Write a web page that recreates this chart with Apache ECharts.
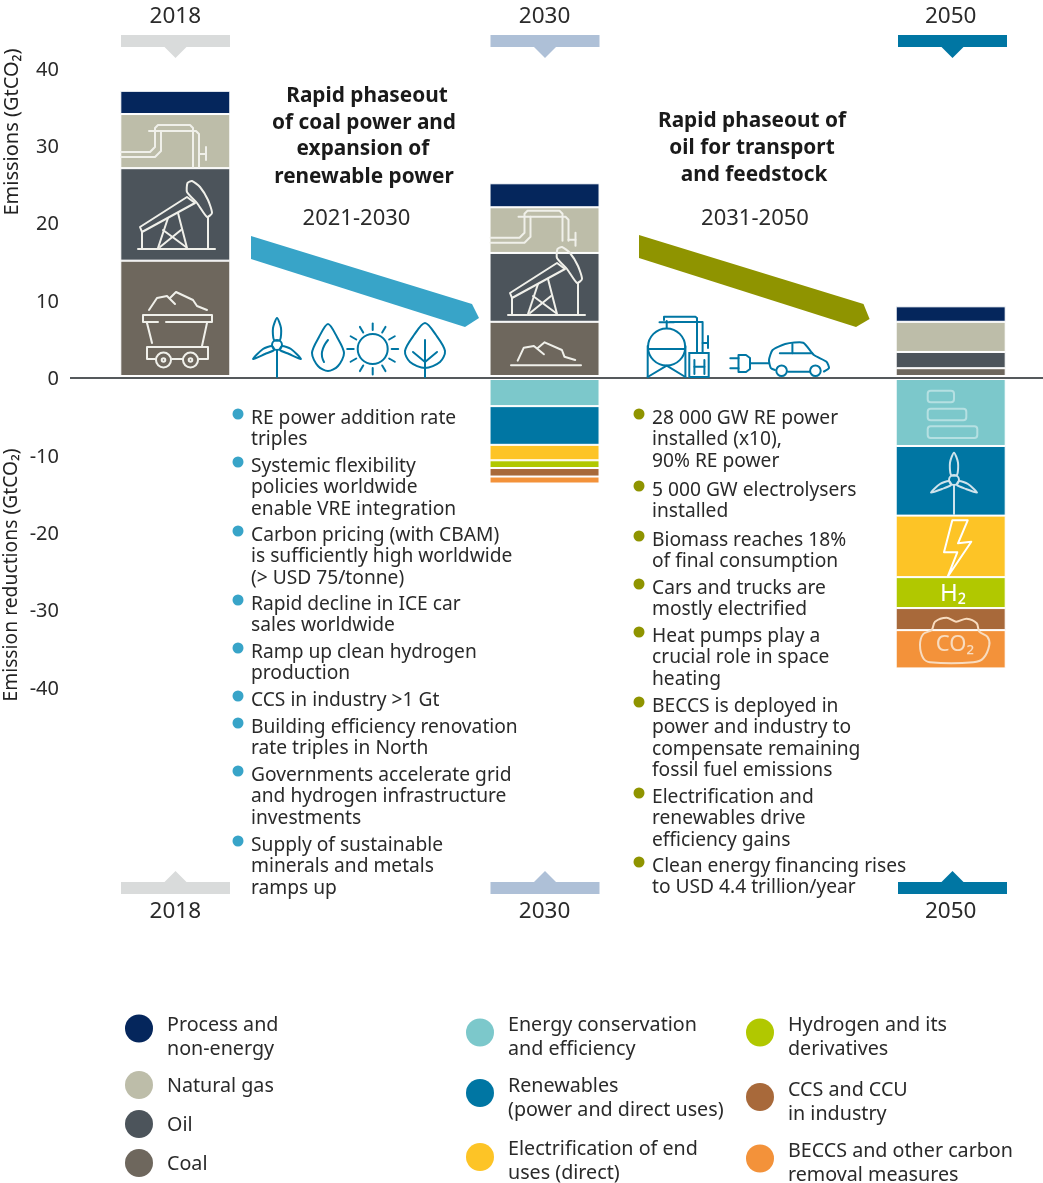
<!DOCTYPE html>
<html><head><meta charset="utf-8">
<style>html,body{margin:0;padding:0;background:#fff}#c{width:1043px;height:1183px}</style>
<script src="https://cdn.jsdelivr.net/npm/echarts@6/dist/echarts.min.js"></script>
</head><body><div id="c"></div>
<script>
// ---- data ----
const years = ['2018','2030','2050'];
const coal = [15.1, 7.2, 1.2];
const oil = [11.95, 8.9, 2.1];
const gas = [7.0, 5.9, 3.9];
const processEm = [3.0, 3.1, 2.0];
const efficiency = [null, -3.7, -8.85];
const renewables = [null, -5.0, -9.0];
const electrification = [null, -2.0, -7.95];
const hydrogen = [null, -1.0, -4.0];
const ccs = [null, -1.1, -2.85];
const beccs = [null, -0.9, -4.95];
const yTicks = {min:-40, max:40, step:10};
const leftBullets = [
 ['RE power addition rate','triples'],
 ['Systemic flexibility','policies worldwide','enable VRE integration'],
 ['Carbon pricing (with CBAM)','is sufficiently high worldwide','(> USD 75/tonne)'],
 ['Rapid decline in ICE car','sales worldwide'],
 ['Ramp up clean hydrogen','production'],
 ['CCS in industry >1 Gt'],
 ['Building efficiency renovation','rate triples in North'],
 ['Governments accelerate grid','and hydrogen infrastructure','investments'],
 ['Supply of sustainable','minerals and metals','ramps up']];
const rightBullets = [
 ['28 000 GW RE power','installed (x10),','90% RE power'],
 ['5 000 GW electrolysers','installed'],
 ['Biomass reaches 18%','of final consumption'],
 ['Cars and trucks are','mostly electrified'],
 ['Heat pumps play a','crucial role in space','heating'],
 ['BECCS is deployed in','power and industry to','compensate remaining','fossil fuel emissions'],
 ['Electrification and','renewables drive','efficiency gains'],
 ['Clean energy financing rises','to USD 4.4 trillion/year']];

// ---- layout ----
const FONT = '"Noto Sans", sans-serif';
const TXT = '#2a2a2a';
const slotYears = {2:'2018',12:'2030',23:'2050'};
const slots = Array.from({length:26},(_,i)=>slotYears[i]||'');
const bySlot = arr => slots.map(s => { const k = years.indexOf(s); return k<0?null:arr[k]; });

const defs = [
 ['Coal',coal,'#6e675d'],['Oil',oil,'#4c545b'],['Natural gas',gas,'#bdbda9'],
 ['Process and\nnon-energy',processEm,'#05265c'],
 ['Energy conservation\nand efficiency',efficiency,'#7cc8cb'],
 ['Renewables\n(power and direct uses)',renewables,'#0076a3'],
 ['Electrification of end\nuses (direct)',electrification,'#fdc426'],
 ['Hydrogen and its\nderivatives',hydrogen,'#b1c800'],
 ['CCS and CCU\nin industry',ccs,'#a8693a'],
 ['BECCS and other carbon\nremoval measures',beccs,'#f3923a']];
const series = defs.map(d=>({
  name:d[0], type:'bar', stack:'t', barWidth:110, data:bySlot(d[1]),
  itemStyle:{color:d[2],borderColor:'#fff',borderWidth:1}, silent:true, animation:false
}));

const LF = 19.7;
const lg = (name,left,cy,off,twoLine) => {
  const p = Math.max(1,off*2);
  const top = twoLine ? cy-24 : cy-14;
  return {data:[name],left,top,icon:'circle',itemWidth:28,itemHeight:28,padding:0,selectedMode:false,
    itemStyle:{borderWidth:0},
    formatter:n=>'{sp| }\n'+n.split('\n').map(l=>'{a|'+l+'}').join('\n'),
    textStyle:{rich:{
      sp:{fontSize:1,lineHeight:p},
      a:{fontFamily:FONT,fontSize:LF,color:TXT,lineHeight:24,padding:[0,0,0,9]}
    }}};
};
const legends = [
 lg('Process and\nnon-energy',125,1028,9,true), lg('Natural gas',125,1085,1), lg('Oil',125,1124,1), lg('Coal',125,1163,1),
 lg('Energy conservation\nand efficiency',466,1032,5,true), lg('Renewables\n(power and direct uses)',466,1092.5,5.5,true),
 lg('Electrification of end\nuses (direct)',466,1156.5,4.5,true),
 lg('Hydrogen and its\nderivatives',746,1032,5,true), lg('CCS and CCU\nin industry',746,1096.5,5.5,true),
 lg('BECCS and other carbon\nremoval measures',746,1158,5,true)];

// ---- graphic helpers ----
const g = [];
const Z = 10;
const pl = (pts,stroke,lw=2,smooth=0)=>g.push({type:'polyline',z:Z,silent:true,shape:{points:pts,smooth},style:{stroke,lineWidth:lw,fill:'none',lineJoin:'round',lineCap:'round'}});
const pg = (pts,stroke,lw=2,smooth=0)=>g.push({type:'polygon',z:Z,silent:true,shape:{points:pts,smooth},style:{stroke,lineWidth:lw,fill:'none',lineJoin:'round'}});
const fillPg = (pts,fill)=>g.push({type:'polygon',z:Z,silent:true,shape:{points:pts},style:{fill}});
const circ = (cx,cy,r,stroke,lw=2)=>g.push({type:'circle',z:Z,silent:true,shape:{cx,cy,r},style:{stroke,lineWidth:lw,fill:'none'}});
const dot = (cx,cy,r,fill)=>g.push({type:'circle',z:Z,silent:true,shape:{cx,cy,r},style:{fill}});
const rr = (x,y,w,h,r,stroke,lw=2)=>g.push({type:'rect',z:Z,silent:true,shape:{x,y,width:w,height:h,r},style:{stroke,lineWidth:lw,fill:'none'}});
const box = (x,y,w,h,fill,z=Z)=>g.push({type:'rect',z,silent:true,shape:{x,y,width:w,height:h},style:{fill}});
const txt = (x,y,text,o={})=>g.push({type:'text',z:Z,silent:true,x:x+(o.rot?1:0),y:y+(o.rot?0:1.3),rotation:o.rot||0,style:{text,fontFamily:FONT,fontSize:o.size||19.2,fontWeight:o.weight||'normal',fill:o.fill||TXT,textAlign:o.align||'left',textVerticalAlign:'middle',verticalAlign:'middle'}});
const sh = (pts,dx,dy)=>pts.map(p=>[p[0]+dx,p[1]+dy]);

// mask that separates the bars from the zero line
box(83,375,962,5,'#fff',5);
g.push({type:'line',z:6,silent:true,shape:{x1:70,y1:378,x2:84,y2:378},style:{stroke:'#55595c',lineWidth:2}});

// year markers
[[175.5,'#d9dbdb'],[545,'#aec0d7'],[952.5,'#0076a3']].forEach(([x,c])=>{
  box(x-54.5,35,109,12,c); fillPg([[x-12,46],[x+12,46],[x,58]],c);
  box(x-54.5,882,109,12,c); fillPg([[x-12,883],[x+12,883],[x,871]],c);
});

// axis titles
txt(11,132,'Emissions (GtCO₂)',{rot:Math.PI/2,align:'center',size:20,fill:'#222'});
txt(11,575,'Emission reductions (GtCO₂)',{rot:Math.PI/2,align:'center',size:19.3,fill:'#222'});

// headings
[[367,95,'Rapid phaseout'],[364,122,'of coal power and'],[363,148,'expansion of'],[364,176,'renewable power'],
 [752,120,'Rapid phaseout of'],[752,147,'oil for transport'],[754,174,'and feedstock']]
 .forEach(([x,y,t])=>txt(x,y,t,{align:'center',weight:'bold',size:20.8,fill:'#1a1a1a'}));
txt(356.5,217,'2021-2030',{align:'center',size:22});
txt(755,217,'2031-2050',{align:'center',size:22});

// arrows
fillPg([[251,236],[472,304],[479,318],[465,327],[251,259]],'#38a4c8');
fillPg([[639,235],[863.5,304],[869.6,319],[856,327],[639,258]],'#8f9400');

// bullet lists
const LINE = 21.5;
const list = (items,starts,xd,xt,c)=>items.forEach((it,i)=>{
  dot(xd,starts[i]-3,5.5,c);
  it.forEach((l,j)=>txt(xt,starts[i]+j*LINE,l));
});
list(leftBullets,[417,465,534,603,651,699,726,774,844],238,251,'#38a4c8');
list(rightBullets,[417,489,539,587,635,705,796,865],639,652,'#8f9400');

// white icons on the bars
const W='#f0f0ea';
const pipe=(dx,dy,legEnd)=>{
  pl(sh([[121,152],[150,152],[155,147],[155,128],[158,125],[190,125],[193,128],[193,legEnd]],dx,dy),W);
  pl(sh([[121,157],[155,157],[161,151],[161,131]],dx,dy),W);
  pl(sh([[149,131],[196,131],[199,134],[199,legEnd]],dx,dy),W);
  pl(sh([[199,154],[206,154]],dx,dy),W); pl(sh([[206,147],[206,160]],dx,dy),W);
};
pipe(0,0,167); pipe(369.5,85.7,155);
const pump=(dx,dy)=>{
  pl(sh([[138,249],[215,249]],dx,dy),W);
  pg(sh([[140,227],[187,197],[195,203],[142,232]],dx,dy),W);
  pg(sh([[187.5,183],[192,181],[200,187],[208,200],[212,213],[207,217],[197,203],[187,192]],dx,dy),W,2,0.2);
  pl(sh([[208,217],[208,248]],dx,dy),W);
  pl(sh([[142,232],[142,248]],dx,dy),W);
  pl(sh([[158,248],[168,218]],dx,dy),W);
  pl(sh([[178,213],[187,248]],dx,dy),W);
  pl(sh([[160,247],[181,230]],dx,dy),W);
  pl(sh([[186,247],[163,230]],dx,dy),W);
};
pump(0,0); pump(370,66);
// coal cart
pl([[149,310],[157,298],[167,296],[175,304]],W);
pl([[170,298],[176,292],[193,300],[197,306],[207,310]],W);
pl([[158,322],[143,322],[143,315],[212,315],[212,322],[166,322]],W);
pl([[147,323],[152,343]],W); pl([[207,323],[202,346]],W);
pl([[155,359],[147,359],[147,347],[208,347],[208,359],[199,359]],W);
pl([[172,359],[183,359]],W);
circ(163.5,360,7.5,W); circ(190.5,360,7.5,W); circ(163.5,360,1.8,W); circ(190.5,360,1.8,W);
// coal heap 2030
pl([[517.7,360.7],[523.8,347.7],[533.9,346],[543.9,354.3]],W);
pl([[537.5,348.3],[544.6,342.3],[561.9,350],[564.4,356.7],[575.2,360]],W);
pl([[511,365.3],[581,365.3]],W);
// 2050 efficiency bars
const E='#b5e0e2';
rr(927.7,390.7,26.3,11.6,3,E); rr(927.7,408.7,38.6,11.6,3,E); rr(927.7,426.3,49.6,11.7,3,E);
// turbines
const turbine=(x,y,top,tipDx,tipDy,stem,c)=>{
  circ(x,y,5,c);
  pg([[x,top],[x+4,top+10],[x+3,y-5],[x-3,y-5],[x-4,top+10]],c,2,0.25);
  pg([[x-tipDx,y+tipDy],[x-14,y+4],[x-5,y+1],[x-3,y+5],[x-12,y+9]],c,2,0.25);
  pg([[x+tipDx,y+tipDy],[x+14,y+4],[x+5,y+1],[x+3,y+5],[x+12,y+9]],c,2,0.25);
  pl([[x,y+5],[x,stem]],c);
};
turbine(954,480,452.7,23,12.7,514,'#cfe3ec');
// bolt
pg([[952.3,520.3],[967.7,520.3],[958,543.3],[971.3,541.7],[947.7,576.7],[957.3,552.3],[944,552.3]],'#fff',2);
txt(953,593,'H₂',{align:'center',size:24,fill:'#fff'});
// cloud
const C='#f8dcc0';
pg([[920,645],[923.3,634],[931.7,630],[935,621.7],[946.7,617.7],[956,621.7],[966.7,618.7],[976.7,623.3],[979.3,631.7],[987.3,636.7],[989.3,645],[983.3,658.3],[973.3,662.3],[930,662.3],[923.3,658.3]],C,2,0.3);
txt(955,643,'CO₂',{align:'center',size:22,fill:C});

// blue icons above the axis
const B='#0076a3';
turbine(277,345,318,24,14,377,B);
pg([[328,324],[337,337],[344,353],[338,366],[328,371],[318,366],[312,353],[319,337]],B,2,0.3);
pl([[328,340],[322,352],[324,362]],B,2,0.5);
circ(372.7,349,15,B,2);
for(let k=0;k<12;k++){const a=k*Math.PI/6; pl([[372.7+19*Math.cos(a),349+19*Math.sin(a)],[372.7+25.5*Math.cos(a),349+25.5*Math.sin(a)]],B,2);}
pg([[425,323],[436,335],[445,351],[440,362],[425,368],[410,362],[405,351],[414,335]],B,2,0.3);
pl([[425,340],[425,377]],B,2);
pl([[413,352],[425,362],[437,352]],B,2);
// tank
circ(666.6,347,18.6,B,2);
pl([[648.5,349],[685,349]],B,2);
pl([[647.7,346],[647.7,377]],B,2); pl([[685.4,346],[685.4,377]],B,2);
pl([[647.7,377],[666.7,365.7],[685.4,377]],B,2);
pl([[666.7,328],[666.7,321]],B,2); pl([[659.5,322.3],[674,322.3]],B,2);
pl([[664,320],[664,316.7],[695.4,316.7],[697,318],[697,353]],B,2);
pl([[670,322],[702.6,322],[702.6,353]],B,2);
pl([[702.6,343],[708,343]],B,2); pl([[708,336],[708,348]],B,2);
rr(689.3,353,19.4,24,0,B,2);
pl([[694.4,360],[694.4,374]],B,2); pl([[704.4,360],[704.4,374]],B,2); pl([[694.4,366.7],[704.4,366.7]],B,2);
// plug and car
pg([[738.5,355],[746,355],[750,358],[750,369],[746,372],[738.5,372]],B,2);
pl([[730.3,358.3],[738.5,358.3]],B,2); pl([[730.3,368.3],[738.5,368.3]],B,2);
pl([[750,363.3],[769,363.3]],B,2);
pl([[775,370],[770.8,368],[769,360],[772.6,350],[785.2,344],[803.2,342.7],[813.9,355],[826.5,361.7],[829,368],[824,371.5]],B,2,0.2);
pl([[788,371.7],[809.6,371.7]],B,2);
pl([[779.8,353.3],[812,353.3]],B,2); pl([[792.4,344],[792.4,353.3]],B,2);
circ(781.6,370.7,5.3,B,2); circ(815.4,370.7,5.3,B,2);

const labelAxis = (position,offset)=>({type:'category',data:slots,position,offset,
  axisLine:{show:false},axisTick:{show:false},
  axisLabel:{interval:0,fontFamily:FONT,fontSize:22.5,color:TXT,margin:0,hideOverlap:false}});

const chart = echarts.init(document.getElementById('c'),null,{renderer:'canvas'});
chart.setOption({
  animation:false,
  backgroundColor:'#fff',
  tooltip:{show:false},
  legend:legends,
  grid:{left:83,top:68,width:962,height:619,containLabel:false},
  xAxis:[
    {type:'category',data:slots,z:6,axisLine:{onZero:true,lineStyle:{color:'#55595c',width:2}},axisTick:{show:false},axisLabel:{show:false}},
    labelAxis('bottom',213),
    labelAxis('top',39.5)
  ],
  yAxis:{type:'value',min:yTicks.min,max:yTicks.max,interval:yTicks.step,
    axisLine:{show:false},axisTick:{show:false},splitLine:{show:false},
    axisLabel:{margin:24,fontFamily:FONT,fontSize:20,color:TXT,verticalAlign:'top',lineHeight:4}},
  series,
  graphic:{elements:g}
});
</script></body></html>
